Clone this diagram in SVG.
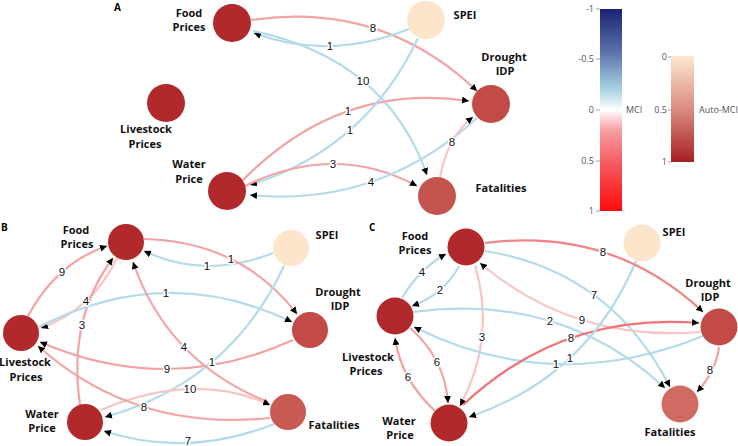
<svg xmlns="http://www.w3.org/2000/svg" width="738" height="446" viewBox="0 0 738 446">
<style>
.e{fill:none;stroke-width:2.2}
.b{stroke:#b3dce8}
.p{stroke:#f4a3a5}
.lp{stroke:#f8c5c5}
.r{stroke:#ef7377}
.el{font-family:"Liberation Sans",Arial,sans-serif;font-size:11.5px;fill:#111;text-anchor:middle;stroke:#fff;stroke-width:3px;paint-order:stroke;stroke-linejoin:round}
.nl{font-family:"Open Sans","DejaVu Sans",sans-serif;font-weight:bold;font-size:11px;fill:#111;text-anchor:middle}
.pl{font-family:"Open Sans","DejaVu Sans",sans-serif;font-weight:bold;font-size:10px;fill:#000}
.tk{font-family:"Open Sans","DejaVu Sans",sans-serif;font-size:9px;fill:#555}
.tr{text-anchor:end}
.dk{fill:#b2292b}
.dr{fill:#c24b47}
.sp{fill:#fde5cc}
</style>
<defs>
<marker id="ah" viewBox="0 0 10 10" refX="10" refY="5" markerWidth="7" markerHeight="7" markerUnits="userSpaceOnUse" orient="auto"><path d="M0,0 L10,5 L0,10 z" fill="#000"/></marker>
<linearGradient id="gm" x1="0" y1="0" x2="0" y2="1">
<stop offset="0" stop-color="#1b2372"/>
<stop offset="0.22" stop-color="#5d75ad"/>
<stop offset="0.4" stop-color="#a8d3e2"/>
<stop offset="0.5" stop-color="#ffffff"/>
<stop offset="0.6" stop-color="#f59ea2"/>
<stop offset="0.78" stop-color="#f6555a"/>
<stop offset="1" stop-color="#ff0a0a"/>
</linearGradient>
<linearGradient id="ga" x1="0" y1="0" x2="0" y2="1">
<stop offset="0" stop-color="#fde7d0"/>
<stop offset="0.5" stop-color="#da8c80"/>
<stop offset="1" stop-color="#a71f22"/>
</linearGradient>
</defs>
<rect width="738" height="446" fill="#fff"/>

<!-- Panel A -->
<text class="pl" x="114" y="11">A</text>
<g id="A-edges">
<path class="e p" d="M251,20 Q382,0.5 477,91" marker-end="url(#ah)"/>
<path class="e b" d="M409,29 Q328.5,61 254,33" marker-end="url(#ah)"/>
<path class="e b" d="M253,31 Q386,59 427,175" marker-end="url(#ah)"/>
<path class="e p" d="M243,180 Q340,81.5 469,101" marker-end="url(#ah)"/>
<path class="e b" d="M418,38 Q366,148.5 250,185" marker-end="url(#ah)"/>
<path class="e p" d="M245,186 Q335,142 417,186" marker-end="url(#ah)"/>
<path class="e b" d="M477,118 Q378.5,207.5 250,195" marker-end="url(#ah)"/>
<path class="e lp" d="M440,177 Q447.5,137 473,117" marker-end="url(#ah)"/>
<text class="el" x="373" y="32">8</text>
<text class="el" x="330" y="50">1</text>
<text class="el" x="363" y="85">10</text>
<text class="el" x="348" y="115">1</text>
<text class="el" x="350" y="134">1</text>
<text class="el" x="333" y="168">3</text>
<text class="el" x="371" y="186">4</text>
<text class="el" x="452" y="146">8</text>
</g>
<g id="A-food"><circle class="dk" cx="232" cy="23" r="19"/><text class="nl" x="189" y="17">Food</text><text class="nl" x="189" y="31">Prices</text></g>
<g id="A-spei"><circle class="sp" cx="426" cy="20" r="19"/><text class="nl" x="465" y="19">SPEI</text></g>
<g id="A-drought"><circle class="dr" cx="491" cy="104" r="19"/><text class="nl" x="504" y="61">Drought</text><text class="nl" x="505" y="75">IDP</text></g>
<g id="A-livestock"><circle class="dk" cx="166" cy="103" r="19"/><text class="nl" x="146" y="133">Livestock</text><text class="nl" x="145" y="148">Prices</text></g>
<g id="A-water"><circle class="dk" cx="227" cy="191" r="19"/><text class="nl" x="189" y="168">Water</text><text class="nl" x="189" y="183">Price</text></g>
<g id="A-fatalities"><circle fill="#c5544f" cx="437" cy="196" r="19"/><text class="nl" x="501" y="192">Fatalities</text></g>

<!-- Colorbars -->
<g id="colorbar-mci">
<rect x="600" y="9" width="22" height="202" fill="url(#gm)"/>
<g stroke="#888" stroke-width="0.8"><line x1="596" y1="9" x2="600" y2="9"/><line x1="596" y1="59" x2="600" y2="59"/><line x1="596" y1="110" x2="600" y2="110"/><line x1="596" y1="161" x2="600" y2="161"/><line x1="596" y1="211" x2="600" y2="211"/></g>
<text class="tk tr" x="594" y="12">-1</text>
<text class="tk tr" x="594" y="62">-0.5</text>
<text class="tk tr" x="594" y="113">0</text>
<text class="tk tr" x="594" y="164">0.5</text>
<text class="tk tr" x="594" y="214">1</text>
<text class="tk" x="626" y="113">MCI</text>
</g>
<g id="colorbar-auto">
<rect x="671" y="56" width="23" height="106" fill="url(#ga)"/>
<g stroke="#888" stroke-width="0.8"><line x1="668" y1="57" x2="671" y2="57"/><line x1="668" y1="110" x2="671" y2="110"/><line x1="668" y1="162" x2="671" y2="162"/></g>
<text class="tk tr" x="667" y="60">0</text>
<text class="tk tr" x="667" y="113">0.5</text>
<text class="tk tr" x="667" y="165">1</text>
<text class="tk" x="699" y="113">Auto-MCI</text>
</g>

<!-- Panel B -->
<text class="pl" x="1" y="231">B</text>
<g id="B-edges">
<path class="e p" d="M28,316 Q56.5,263 107,246" marker-end="url(#ah)"/>
<path class="e lp" d="M117,258 Q93,309 41,328" marker-end="url(#ah)"/>
<path class="e p" d="M80,405 Q67.5,318.5 113,258" marker-end="url(#ah)"/>
<path class="e b" d="M273,253 Q205.5,280 144,251" marker-end="url(#ah)"/>
<path class="e p" d="M144,239 Q241.5,241.5 297,314" marker-end="url(#ah)"/>
<path class="e b" d="M39,327 Q166.5,261.5 292,322" marker-end="url(#ah)"/>
<path class="e p" d="M293,340 Q167.5,397 40,342" marker-end="url(#ah)"/>
<path class="e b" d="M284,266 Q229.5,382.5 105,417" marker-end="url(#ah)"/>
<path class="e p" d="M268,402 Q167.5,362 133,262" marker-end="url(#ah)"/>
<path class="e lp" d="M101,410 Q194.5,370.5 270,405" marker-end="url(#ah)"/>
<path class="e p" d="M270,418 Q134,432 38,346" marker-end="url(#ah)"/>
<path class="e b" d="M274,424 Q187,458.5 104,431" marker-end="url(#ah)"/>
<text class="el" x="62" y="276">9</text>
<text class="el" x="86" y="305">4</text>
<text class="el" x="82" y="329">3</text>
<text class="el" x="207" y="270">1</text>
<text class="el" x="231" y="263">1</text>
<text class="el" x="166" y="297">1</text>
<text class="el" x="167" y="373">9</text>
<text class="el" x="212" y="366">1</text>
<text class="el" x="184" y="351">4</text>
<text class="el" x="190" y="393">10</text>
<text class="el" x="144" y="411">8</text>
<text class="el" x="188" y="445">7</text>
</g>
<g id="B-food"><circle class="dk" cx="126" cy="242" r="18"/><text class="nl" x="76" y="234">Food</text><text class="nl" x="77" y="248">Prices</text></g>
<g id="B-spei"><circle class="sp" cx="291" cy="248" r="18"/><text class="nl" x="327" y="239">SPEI</text></g>
<g id="B-drought"><circle class="dr" cx="310" cy="330" r="18"/><text class="nl" x="338" y="296">Drought</text><text class="nl" x="340" y="310">IDP</text></g>
<g id="B-livestock"><circle class="dk" cx="21" cy="333" r="18"/><text class="nl" x="25" y="366">Livestock</text><text class="nl" x="26" y="381">Prices</text></g>
<g id="B-water"><circle class="dk" cx="85" cy="422" r="18"/><text class="nl" x="42" y="418">Water</text><text class="nl" x="42" y="432">Price</text></g>
<g id="B-fatalities"><circle fill="#c85a52" cx="288" cy="412" r="18"/><text class="nl" x="334" y="429">Fatalities</text></g>

<!-- Panel C -->
<text class="pl" x="369" y="231">C</text>
<g id="C-edges">
<path class="e b" d="M402,298 Q420,268 446,254" marker-end="url(#ah)"/>
<path class="e b" d="M459,266 Q444.5,294 412,306" marker-end="url(#ah)"/>
<path class="e lp" d="M475,265 Q496.5,338.5 460,406" marker-end="url(#ah)"/>
<path class="e p" d="M410,328 Q445,358.5 448,403" marker-end="url(#ah)"/>
<path class="e p" d="M435,411 Q401,379.5 395,338" marker-end="url(#ah)"/>
<path class="e b" d="M703,336 Q553.5,396.5 414,327" marker-end="url(#ah)"/>
<path class="e b" d="M413,312 Q561,292 665,388" marker-end="url(#ah)"/>
<path class="e b" d="M485,251 Q610.5,271 670,387" marker-end="url(#ah)"/>
<path class="e lp" d="M700,332 Q574,342.5 480,263" marker-end="url(#ah)"/>
<path class="e r" d="M463,405 Q561,312 699,323" marker-end="url(#ah)"/>
<path class="e b" d="M636,261 Q587.5,377 469,417" marker-end="url(#ah)"/>
<path class="e" stroke="#f08588" d="M485,243 Q612,226.5 703,312" marker-end="url(#ah)"/>
<path class="e p" d="M719,347 Q716,371 697,392" marker-end="url(#ah)"/>
<text class="el" x="422" y="276">4</text>
<text class="el" x="440" y="294">2</text>
<text class="el" x="482" y="341">3</text>
<text class="el" x="437" y="366">6</text>
<text class="el" x="408" y="381">6</text>
<text class="el" x="556" y="368">1</text>
<text class="el" x="550" y="325">2</text>
<text class="el" x="594" y="299">7</text>
<text class="el" x="582" y="324">9</text>
<text class="el" x="571" y="342">8</text>
<text class="el" x="570" y="362">1</text>
<text class="el" x="603" y="256">8</text>
<text class="el" x="710" y="374">8</text>
</g>
<g id="C-food"><circle class="dk" cx="466" cy="247" r="18.5"/><text class="nl" x="415" y="240">Food</text><text class="nl" x="415" y="254">Prices</text></g>
<g id="C-spei"><circle class="sp" cx="642" cy="243" r="18.5"/><text class="nl" x="674" y="236">SPEI</text></g>
<g id="C-drought"><circle class="dr" cx="719" cy="327" r="18.5"/><text class="nl" x="708" y="287">Drought</text><text class="nl" x="710" y="301">IDP</text></g>
<g id="C-livestock"><circle class="dk" cx="395" cy="316" r="18.5"/><text class="nl" x="368" y="361">Livestock</text><text class="nl" x="366" y="375">Prices</text></g>
<g id="C-water"><circle class="dk" cx="449" cy="423" r="18.5"/><text class="nl" x="399" y="425">Water</text><text class="nl" x="400" y="439">Price</text></g>
<g id="C-fatalities"><circle fill="#cf6b62" cx="680" cy="404" r="18.5"/><text class="nl" x="670" y="436">Fatalities</text></g>
</svg>
